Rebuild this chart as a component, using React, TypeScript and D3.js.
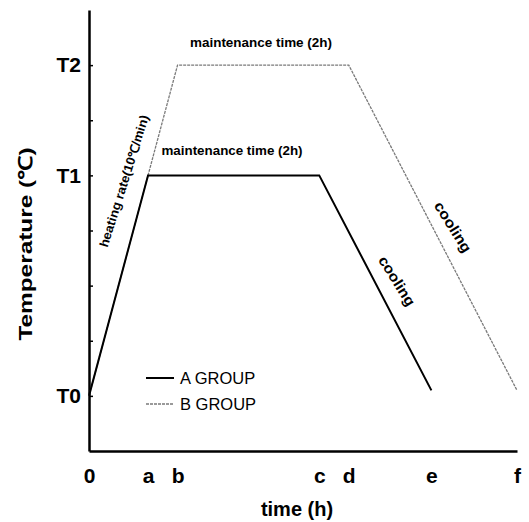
import React, { useRef, useEffect } from 'react';
import * as d3 from 'd3';

// time axis (positions in arbitrary hours)
const timeLabels = ['0', 'a', 'b', 'c', 'd', 'e', 'f'];
const timeValues = [0, 1, 1.5, 3.9, 4.4, 5.8, 7.25];

// temperature axis
const tempLabels = ['T0', 'T1', 'T2'];
const tempValues = [0, 4, 6];
const tempTicks = [0, 1, 2, 3, 4, 5, 6];

// the two firing schedules
const groupATime = [0, 1, 3.9, 5.8];
const groupATemp = [0, 4, 4, 0.1];
const groupBTime = [0, 1.5, 4.4, 7.25];
const groupBTemp = [0, 6, 6, 0.1];

const W = 529;
const H = 522;
const FONT = "'Liberation Sans', Arial, sans-serif";

const App = () => {
  const svgRef = useRef<SVGSVGElement>(null);

  useEffect(() => {
    const svg = d3.select(svgRef.current);
    svg.selectAll('*').remove();

    const x = d3.scaleLinear().domain([0, 7.25]).range([89, 517]);
    const y = d3.scaleLinear().domain([-1, 7]).range([451, 10]);

    const tempName = (v: number) => {
      const i = tempValues.indexOf(v);
      return i >= 0 ? tempLabels[i] : '';
    };

    // y axis, ticks pointing inward
    const yAxis = svg.append('g')
      .attr('transform', `translate(${x(0)},0)`)
      .call(d3.axisLeft(y).tickValues(tempTicks).tickSizeInner(-4).tickSizeOuter(0)
        .tickPadding(8).tickFormat(d => tempName(d as number)));
    yAxis.select('.domain').attr('stroke', '#000').attr('stroke-width', 2.5);
    yAxis.selectAll('.tick line').attr('stroke', '#000').attr('stroke-width', 1.5);
    yAxis.selectAll('.tick text')
      .attr('fill', '#000')
      .style('font-family', FONT)
      .style('font-weight', 'bold')
      .style('font-size', '21px');

    // x axis, labels only
    const xAxis = svg.append('g')
      .attr('transform', `translate(0,${y(-1)})`)
      .call(d3.axisBottom(x).tickValues(timeValues).tickSize(0).tickPadding(17)
        .tickFormat((d, i) => timeLabels[i]));
    xAxis.select('.domain').attr('stroke', '#000').attr('stroke-width', 2.5);
    xAxis.selectAll('.tick text')
      .attr('fill', '#000')
      .style('font-family', FONT)
      .style('font-weight', 'bold')
      .style('font-size', '21px');

    const ptsA = groupATime.map((t, i) => [x(t), y(groupATemp[i])] as [number, number]);
    const ptsB = groupBTime.map((t, i) => [x(t), y(groupBTemp[i])] as [number, number]);
    const path = d3.line();

    svg.append('path')
      .attr('d', path(ptsB))
      .attr('fill', 'none')
      .attr('stroke', '#7a7a7a')
      .attr('stroke-width', 1.3)
      .attr('stroke-dasharray', '3,1');

    svg.append('path')
      .attr('d', path(ptsA))
      .attr('fill', 'none')
      .attr('stroke', '#000')
      .attr('stroke-width', 2);

    // legend
    const legend = [
      { name: 'A GROUP', color: '#000', width: 2, dash: null, y: 378 },
      { name: 'B GROUP', color: '#7a7a7a', width: 1.3, dash: '3,1', y: 404 },
    ];
    legend.forEach(l => {
      svg.append('line')
        .attr('x1', 146).attr('x2', 174)
        .attr('y1', l.y).attr('y2', l.y)
        .attr('stroke', l.color)
        .attr('stroke-width', l.width)
        .attr('stroke-dasharray', l.dash);
      svg.append('text')
        .attr('x', 180).attr('y', l.y)
        .attr('dy', '0.36em')
        .style('font-family', FONT)
        .style('font-size', '16.5px')
        .text(l.name);
    });

    // annotations
    const note = (txt: string, cx: number, cy: number, angle: number, size: number, len: number) => {
      svg.append('text')
        .attr('transform', `translate(${cx},${cy}) rotate(${angle})`)
        .attr('text-anchor', 'middle')
        .attr('dy', '0.35em')
        .attr('textLength', len)
        .attr('lengthAdjust', 'spacingAndGlyphs')
        .style('font-family', FONT)
        .style('font-weight', 'bold')
        .style('font-size', `${size}px`)
        .text(txt);
    };
    note('maintenance time (2h)', 261, 43, 0, 12.5, 142);
    note('maintenance time (2h)', 232, 151, 0, 12.5, 141);
    note('heating rate(10\u2103/min)', 124, 181, -72.5, 12.5, 138);
    note('cooling', 397, 281, 58, 14.5, 56);
    note('cooling', 453, 227, 58, 14.5, 57);

    // axis titles
    svg.append('text')
      .attr('transform', `translate(25,244) rotate(-90)`)
      .attr('text-anchor', 'middle')
      .attr('dy', '0.35em')
      .attr('textLength', 193)
      .attr('lengthAdjust', 'spacingAndGlyphs')
      .style('font-family', FONT)
      .style('font-weight', 'bold')
      .style('font-size', '19px')
      .text('Temperature (\u2103)');

    svg.append('text')
      .attr('x', 297).attr('y', 516)
      .attr('text-anchor', 'middle')
      .style('font-family', FONT)
      .style('font-weight', 'bold')
      .style('font-size', '20px')
      .text('time (h)');
  }, []);

  return (
    <svg
      ref={svgRef}
      width={W}
      height={H}
      viewBox={`0 0 ${W} ${H}`}
      style={{ position: 'absolute', left: 0, top: 0, background: '#fff' }}
    />
  );
};

export default App;
